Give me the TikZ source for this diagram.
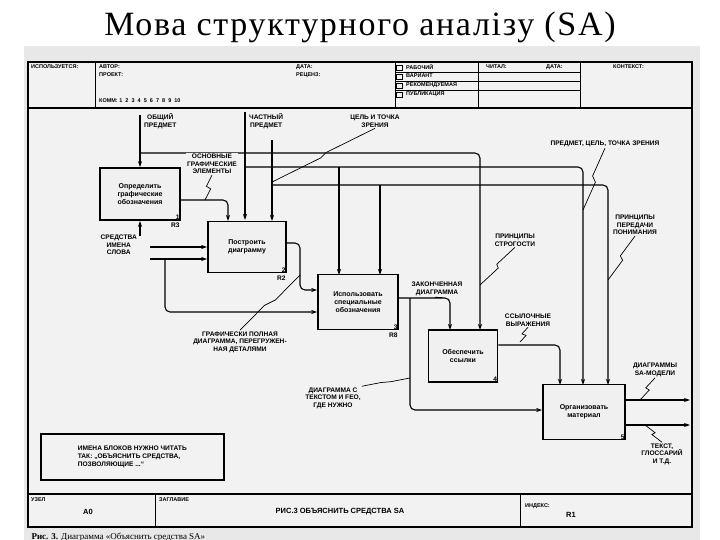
\documentclass[tikz,border=0pt]{standalone}
\usepackage{fontspec}
\setmainfont{Liberation Serif}
\newfontfamily\lab{Liberation Sans}
\newfontfamily\titlefont[LetterSpace=5]{Liberation Serif}
\usetikzlibrary{arrows.meta,calc}
\tikzset{
  blk/.style={draw,line width=1.6pt,fill=gray!12,minimum width=80pt,minimum height=52pt,align=center,font=\lab\bfseries\fontsize{7}{8.2}\selectfont,inner sep=2pt},
  lbl/.style={font=\lab\bfseries\fontsize{6.6}{7.6}\selectfont,align=center,inner sep=1pt},
  hdr/.style={font=\lab\bfseries\fontsize{5.5}{6}\selectfont,inner sep=1pt,anchor=west},
  con/.style={line width=1.1pt,rounded corners=5pt},
  arr/.style={con,-{Stealth[length=6pt,width=4pt]}},
  sq/.style={line width=0.7pt}
}
\newcommand\squig[2]{\draw[sq] (#1) -- ($(#1)!0.45!(#2)+(-2.5,0)$) -- ($(#1)!0.55!(#2)+(2.5,0)$) -- (#2);}
\begin{document}
\begin{tikzpicture}[x=1pt,y=-1pt]
\useasboundingbox (0,0) rectangle (720,540);
\fill[white] (0,0) rectangle (720,540);
\node[font=\titlefont\fontsize{34}{36}\selectfont] (title) at (360,27) {Мова структурного аналізу (SA)};
% frame
\fill[gray!18] (24,46) rectangle (700,540);
\draw[line width=1.5pt,fill=gray!10] (28,62) rectangle (692,527);
\draw[line width=2pt] (28,108) -- (692,108);
\draw[line width=1.5pt] (28,494) -- (692,494);
% top header
\draw[line width=0.8pt] (95,62) -- (95,108) (395,62) -- (395,108) (478,62) -- (478,108) (580,62) -- (580,108);
\foreach \y in {72,81,90} \draw[line width=0.6pt] (395,\y) -- (580,\y);
\foreach \y in {63,72,81,90} \draw[line width=0.6pt] (396,\y+2) rectangle (402,\y+7);
\node[hdr] (h1) at (30,67) {ИСПОЛЬЗУЕТСЯ:};
\node[hdr] (h2) at (98,67) {АВТОР:};
\node[hdr] (h3) at (98,75) {ПРОЕКТ:};
\node[hdr] (h4) at (98,101) {КОММ: 1\ \ 2\ \ 3\ \ 4\ \ 5\ \ 6\ \ 7\ \ 8\ \ 9\ \ 10};
\node[hdr] (h5) at (295,67) {ДАТА:};
\node[hdr] (h6) at (295,75) {РЕЦЕНЗ:};
\node[hdr] (h7) at (405,67) {РАБОЧИЙ};
\node[hdr] (h8) at (405,76) {ВАРИАНТ};
\node[hdr] (h9) at (405,85) {РЕКОМЕНДУЕМАЯ};
\node[hdr] (h10) at (405,94) {ПУБЛИКАЦИЯ};
\node[hdr] (h11) at (485,67) {ЧИТАЛ:};
\node[hdr] (h12) at (545,67) {ДАТА:};
\node[hdr] (h13) at (612,67) {КОНТЕКСТ:};
% bottom header
\draw[line width=0.8pt] (155,494) -- (155,527) (520,494) -- (520,527);
\node[hdr] (b1) at (30,500) {УЗЕЛ};
\node[hdr,font=\lab\bfseries\fontsize{7.5}{8}\selectfont] (b2) at (82,512) {А0};
\node[hdr] (b3) at (158,500) {ЗАГЛАВИЕ};
\node[lbl,font=\lab\bfseries\fontsize{7.5}{8}\selectfont] (b4) at (340,512) {РИС.3 ОБЪЯСНИТЬ СРЕДСТВА SA};
\node[hdr] (b5) at (524,506) {ИНДЕКС:};
\node[hdr,font=\lab\bfseries\fontsize{7.5}{8}\selectfont] (b6) at (565,515) {R1};
\node[anchor=west,font=\fontsize{9}{10}\selectfont] (cap) at (28,537) {\textbf{Рис. 3.} Диаграмма «Объяснить средства SA»};
% boxes
\node[blk,minimum width=80pt,minimum height=52pt] (B1) at (140,194) {Определить\\графические\\обозначения};
\node[blk,minimum width=78pt,minimum height=51pt] (B2) at (247,247) {Построить\\диаграмму};
\node[blk,minimum width=80pt,minimum height=55pt] (B3) at (358,302) {Использовать\\специальные\\обозначения};
\node[blk,minimum width=69pt,minimum height=52pt] (B4) at (463,356) {Обеспечить\\ссылки};
\node[blk,minimum width=82pt,minimum height=55pt] (B5) at (584,412) {Организовать\\материал};
\foreach \b/\n/\r in {B1/1/R3,B2/2/R2,B3/3/R8,B4/4/,B5/5/} {
  \node[lbl,anchor=south east] at (\b.south east) {\n};
  \node[lbl,anchor=north east] at ($(\b.south east)+(0,1)$) {\r};
}
% coordinates
\coordinate (obs) at (140,115);
\coordinate (cha) at (245,112);
\coordinate (cel) at (272,140);
\coordinate (sr) at (140,236);
\coordinate (im) at (150,247);
\coordinate (sl) at (150,259);
\coordinate (o1) at (690,400);
\coordinate (o2) at (690,425);
% controls
\draw[arr] (obs) -- (B1.north);
\draw[arr] (140,153) -- (480,153) -- (480,330);
\draw[arr] (cha) -- (245,220);
\draw[arr] (245,167) -- (583,167) -- (583,385);
\draw[arr] (339,167) -- (339,275);
\draw[arr] (cel) -- (272,221);
\draw[arr] (272,185) -- (608,185) -- (608,385);
\draw[arr] (380,185) -- (380,275);
\draw[arr] (B1.east |- 0,200) -- (228,200) -- (228,221);
% mechanism & inputs
\draw[arr] (sr) -- (B1.south);
\draw[arr] (im) -- (B2.west |- im);
\draw[arr] (sl) -- (B2.west |- sl);
\draw[arr] (165,259) -- (165,312) -- (B3.west |- 0,312);
\draw[arr] (B2.east |- 0,243) -- (300,243) -- (300,290) -- (B3.west |- 0,290);
\draw[arr] (B3.east |- 0,298) -- (450,298) -- (450,330);
\draw[arr] (410,298) -- (410,410) -- (B5.west |- 0,410);
\draw[arr] (B4.east |- 0,345) -- (560,345) -- (560,385);
\draw[arr] (B5.east |- o1) -- (o1);
\draw[arr] (B5.east |- o2) -- (o2);
% labels
\node[lbl,anchor=west] (lobs) at (143,121) {ОБЩИЙ\\ПРЕДМЕТ};
\node[lbl,anchor=west] (lcha) at (248,121) {ЧАСТНЫЙ\\ПРЕДМЕТ};
\node[lbl] (lcel) at (375,121) {ЦЕЛЬ И ТОЧКА\\ЗРЕНИЯ};
\node[lbl,fill=gray!10] (losn) at (212,164) {ОСНОВНЫЕ\\ГРАФИЧЕСКИЕ\\ЭЛЕМЕНТЫ};
\node[lbl,anchor=east] (lsr) at (138,245) {СРЕДСТВА\\ИМЕНА\\СЛОВА};
\node[lbl] (lpre) at (605,144) {ПРЕДМЕТ, ЦЕЛЬ, ТОЧКА ЗРЕНИЯ};
\node[lbl] (lstr) at (515,240) {ПРИНЦИПЫ\\СТРОГОСТИ};
\node[lbl] (lper) at (635,225) {ПРИНЦИПЫ\\ПЕРЕДАЧИ\\ПОНИМАНИЯ};
\node[lbl] (lzak) at (437,289) {ЗАКОНЧЕННАЯ\\ДИАГРАММА};
\node[lbl] (lssy) at (528,320) {ССЫЛОЧНЫЕ\\ВЫРАЖЕНИЯ};
\node[lbl] (lgra) at (240,342) {ГРАФИЧЕСКИ ПОЛНАЯ\\ДИАГРАММА, ПЕРЕГРУЖЕН-\\НАЯ ДЕТАЛЯМИ};
\node[lbl] (ldia) at (333,398) {ДИАГРАММА С\\ТЕКСТОМ И FEO,\\ГДЕ НУЖНО};
\node[lbl] (lsa) at (655,370) {ДИАГРАММЫ\\SA-МОДЕЛИ};
\node[lbl] (ltxt) at (662,454) {ТЕКСТ,\\ГЛОССАРИЙ\\И Т.Д.};
\node[draw,line width=1.6pt,lbl,align=left,anchor=north west,minimum width=183pt,minimum height=46pt,inner sep=5pt] (note) at (40,433) {ИМЕНА БЛОКОВ НУЖНО ЧИТАТЬ\\ТАК: „ОБЪЯСНИТЬ СРЕДСТВА,\\ПОЗВОЛЯЮЩИЕ ...“};
% squiggles
\squig{lcel.south}{272,182}
\squig{losn.south}{205,200}
\squig{lpre.south}{583,210}
\squig{lstr.south}{480,285}
\squig{lper.south}{608,280}
\squig{lzak.south}{440,298}
\squig{lssy.south}{520,342}
\squig{lgra.north}{300,275}
\squig{ldia.north east}{410,378}
\squig{lsa.south}{640,400}
\squig{ltxt.north}{645,425}
\end{tikzpicture}
\end{document}
